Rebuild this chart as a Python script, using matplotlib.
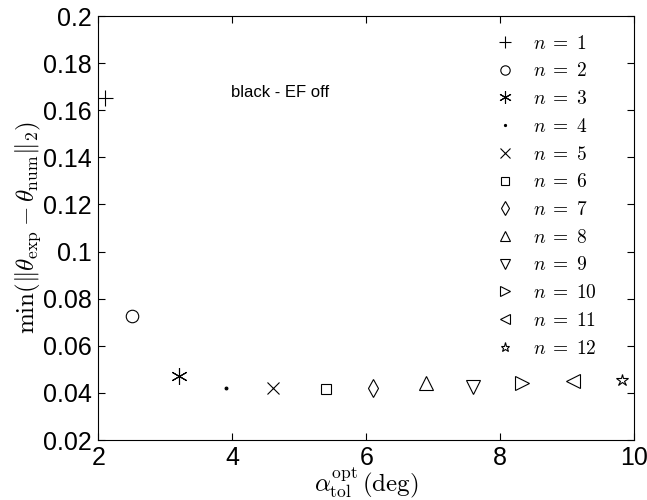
import matplotlib
matplotlib.use('Agg')
import matplotlib.pyplot as plt

plt.rcParams['font.family'] = ['Liberation Sans', 'DejaVu Sans']
plt.rcParams['mathtext.fontset'] = 'cm'

# data
n_vals = list(range(1, 13))
alpha_opt = [2.1, 2.51, 3.21, 3.91, 4.61, 5.40, 6.10, 6.90, 7.60, 8.33, 9.09, 9.82]
min_err = [0.165, 0.0727, 0.0472, 0.0421, 0.0421, 0.0417, 0.0420, 0.0442, 0.0425, 0.0442, 0.0450, 0.0455]
markers = ['+', 'o', (6, 2, 0), '.', 'x', 's', 'd', '^', 'v', '>', '<', '*']
sizes = [12, 9, 12, 4, 9, 7, 9, 10, 10, 10, 10, 9]

fig, ax = plt.subplots(figsize=(6.47, 5.0), dpi=100)
fig.subplots_adjust(left=0.152, right=0.98, top=0.968, bottom=0.12)

for n, x, y, m, s in zip(n_vals, alpha_opt, min_err, markers, sizes):
    ax.plot(x, y, linestyle='none', marker=m, markersize=s, color='k',
            markerfacecolor='none' if m not in ['.', '+', 'x', (6, 2, 0)] else 'k',
            markeredgewidth=0.8, label=r'$n\;=\;%d$' % n)

ax.text(3.98, 0.1656, 'black - EF off', fontsize=12, va='baseline')

ax.set_xlim(2, 10)
ax.set_ylim(0.02, 0.2)
ax.set_xticks([2, 4, 6, 8, 10])
ax.set_yticks([0.02, 0.04, 0.06, 0.08, 0.1, 0.12, 0.14, 0.16, 0.18, 0.2])
ax.set_yticklabels(['0.02', '0.04', '0.06', '0.08', '0.1', '0.12', '0.14', '0.16', '0.18', '0.2'])
ax.tick_params(direction='in', top=True, right=True, labelsize=18, length=5, width=0.8)
ax.tick_params(axis='y', pad=5)
ax.tick_params(axis='x', pad=4)
for sp in ax.spines.values():
    sp.set_linewidth(0.8)

ax.set_xlabel(r'$\alpha_{\rm tol}^{\rm opt}\,({\rm deg})$', fontsize=18, labelpad=-3)
ax.set_ylabel(r'$\min(\|\theta_{\rm exp}-\theta_{\rm num}\|_2)$', fontsize=18, labelpad=0)

ax.legend(loc='upper right', frameon=False, fontsize=14, labelspacing=0.5,
          handletextpad=0.9, borderaxespad=0.3, handlelength=1.0, markerscale=0.75,
          bbox_to_anchor=(0.955, 0.988))

fig.savefig('out.png', dpi=100)
